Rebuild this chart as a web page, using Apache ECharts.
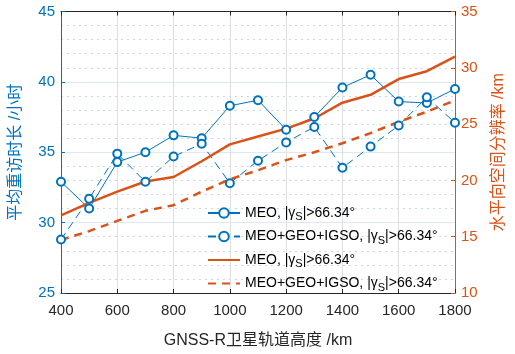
<!DOCTYPE html>
<html>
<head>
<meta charset="utf-8">
<script src="https://cdn.jsdelivr.net/npm/echarts@6/dist/echarts.min.js"></script>
<style>
  html, body { margin: 0; padding: 0; background: #fff; }
  #main { width: 515px; height: 354px; }
</style>
</head>
<body>
<div id="main"></div>
<script>
// 轨道高度 /km
var heights = [400, 500, 600, 700, 800, 900, 1000, 1100, 1200, 1300, 1400, 1500, 1600, 1700, 1800]
// 平均重访时长 /小时
var revisitMeo = [32.9, 31.0, 34.3, 35.0, 36.2, 36.0, 38.3, 38.7, 36.6, 37.5, 39.6, 40.5, 38.6, 38.5, 39.5]
var revisitAll = [28.8, 31.7, 34.9, 32.9, 34.7, 35.6, 32.8, 34.4, 35.7, 36.8, 33.9, 35.4, 36.9, 38.9, 37.1]
// 水平向空间分辨率 /km
var resMeo = [16.9, 18.0, 19.0, 19.9, 20.3, 21.7, 23.2, 23.9, 24.6, 25.5, 26.9, 27.6, 29.0, 29.7, 31.0]
var resAll = [14.7, 15.5, 16.4, 17.3, 17.8, 19.0, 20.1, 20.9, 21.8, 22.5, 23.3, 24.2, 25.2, 26.1, 27.1]
var legendLabels = [
  'MEO, |{g|γ}{s|S}|>66.34°',
  'MEO+GEO+IGSO, |{g|γ}{s|S}|>66.34°',
  'MEO, |{g|γ}{s|S}|>66.34°',
  'MEO+GEO+IGSO, |{g|γ}{s|S}|>66.34°'
]

var blue = '#0072BD'
var orange = '#D95319'
var font = "'Liberation Sans', Arial, 'Noto Sans CJK SC', sans-serif"

function pairs(ys) {
  return heights.map(function (h, i) { return [h, ys[i]] })
}

var chart = echarts.init(document.getElementById('main'))
var option = {
  animation: false,
  textStyle: { fontFamily: font },
  grid: { left: 56, right: 45, top: 11.5, bottom: 56 },
  legend: {
    orient: 'vertical',
    left: 202,
    top: 201,
    itemWidth: 32,
    itemHeight: 12,
    itemGap: 7,
    data: [
      { name: 's0' },
      { name: 's1' },
      { name: 's2', itemStyle: { opacity: 0 } },
      { name: 's3', itemStyle: { opacity: 0 } }
    ],
    formatter: function (name) {
      return legendLabels[+name.slice(1)]
    },
    textStyle: {
      fontSize: 14,
      color: '#000',
      fontFamily: font,
      rich: {
        g: { fontSize: 14, fontFamily: font },
        s: { fontSize: 11, fontFamily: font, padding: [8, 0, 0, 0] }
      }
    }
  },
  xAxis: [
    {
      type: 'value',
      min: 400,
      max: 1800,
      interval: 200,
      name: 'GNSS-R卫星轨道高度 /km',
      nameLocation: 'middle',
      nameGap: 40,
      nameTextStyle: { fontSize: 16, color: '#262626', fontFamily: font },
      axisLine: { lineStyle: { color: '#262626', width: 1 } },
      axisTick: { inside: true, length: 4, lineStyle: { color: '#262626' } },
      axisLabel: { fontSize: 15, color: '#262626', margin: 10, formatter: function (v) { return String(v) } },
      splitLine: { show: true, lineStyle: { color: '#dfdfdf', width: 1 } }
    },
    {
      type: 'value',
      position: 'top',
      min: 400,
      max: 1800,
      interval: 200,
      axisLine: { show: true, lineStyle: { color: '#262626', width: 1 } },
      axisTick: { show: true, inside: true, length: 4, lineStyle: { color: '#262626' } },
      axisLabel: { show: false },
      splitLine: { show: false }
    }
  ],
  yAxis: [
    {
      type: 'value',
      min: 25,
      max: 45,
      interval: 5,
      name: '平均重访时长 /小时',
      nameLocation: 'middle',
      nameRotate: 90,
      nameGap: 37,
      nameTextStyle: { fontSize: 16, color: blue, fontFamily: font },
      axisLine: { show: true, lineStyle: { color: blue, width: 1 } },
      axisTick: { show: true, inside: true, length: 4, lineStyle: { color: blue } },
      axisLabel: { fontSize: 15, color: blue, margin: 6 },
      splitLine: { show: true, lineStyle: { color: '#dce9f5', width: 1 } },
      minorTick: { show: true, splitNumber: 5, length: 0 },
      minorSplitLine: { show: true, lineStyle: { color: '#c6d9ea', type: [2, 4], width: 1 } }
    },
    {
      type: 'value',
      min: 10,
      max: 35,
      interval: 5,
      position: 'right',
      name: '水平向空间分辨率 /km',
      nameLocation: 'middle',
      nameRotate: 90,
      nameGap: 36,
      nameTextStyle: { fontSize: 16, color: orange, fontFamily: font },
      axisLine: { show: true, lineStyle: { color: orange, width: 1 } },
      axisTick: { show: true, inside: true, length: 4, lineStyle: { color: orange } },
      axisLabel: { fontSize: 15, color: orange, margin: 6 },
      splitLine: { show: false }
    }
  ],
  series: [
    {
      name: 's0',
      type: 'line',
      data: pairs(revisitMeo),
      symbol: 'emptyCircle',
      symbolSize: 8,
      color: blue,
      lineStyle: { width: 1, color: blue },
      itemStyle: { color: blue, borderWidth: 1 }
    },
    {
      name: 's1',
      type: 'line',
      data: pairs(revisitAll),
      symbol: 'emptyCircle',
      symbolSize: 8,
      color: blue,
      lineStyle: { width: 1, color: blue, type: [8, 5] },
      itemStyle: { color: blue, borderWidth: 1 }
    },
    {
      name: 's2',
      type: 'line',
      yAxisIndex: 1,
      data: pairs(resMeo),
      symbol: 'none',
      color: orange,
      lineStyle: { width: 2.5, color: orange }
    },
    {
      name: 's3',
      type: 'line',
      yAxisIndex: 1,
      data: pairs(resAll),
      symbol: 'none',
      color: orange,
      lineStyle: { width: 2.5, color: orange, type: [8, 6] }
    }
  ]
}
chart.setOption(option)
</script>
</body>
</html>
